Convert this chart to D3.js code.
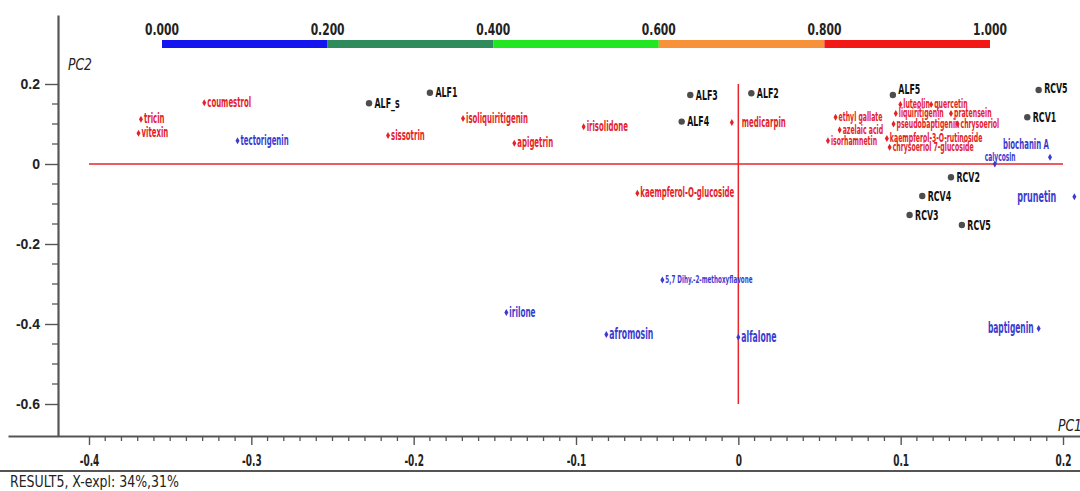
<!DOCTYPE html>
<html>
<head>
<meta charset="utf-8">
<script src="https://cdn.jsdelivr.net/npm/d3@7"></script>
<style>
body{margin:0;background:#fff;overflow:hidden}
svg{display:block}
</style>
</head>
<body>
<svg id="chart"></svg>
<script>
// sample scores (grey dots)
var sampleNames = ["ALF_s","ALF1","ALF3","ALF4","ALF2","ALF5","RCV5","RCV1","RCV2","RCV4","RCV3","RCV5"];
var sampleX = [-0.2275,-0.190,-0.0296,-0.0349,0.008,0.0952,0.185,0.178,0.131,0.1133,0.1055,0.1377];
var sampleY = [0.152,0.178,0.1725,0.106,0.177,0.1725,0.185,0.117,-0.033,-0.080,-0.1275,-0.1525];

// compound loadings, band = slot of the colour scale (0 = 0.000-0.200 ... 4 = 0.800-1.000)
var compNames = ["coumestrol","tricin","vitexin","tectorigenin","sissotrin","isoliquiritigenin","apigetrin",
	"irisolidone","medicarpin","kaempferol-O-glucoside","ethyl gallate","azelaic acid","isorhamnetin",
	"luteolin","quercetin","liquiritigenin","pratensein","pseudobaptigenin","chrysoeriol",
	"kaempferol-3-O-rutinoside","chrysoeriol 7-glucoside","biochanin A","calycosin","prunetin",
	"baptigenin","5,7 Dihy.-2-methoxyflavone","irilone","afromosin","alfalone"];
var compX = [-0.329,-0.368,-0.3695,-0.3085,-0.2158,-0.1696,-0.138,
	-0.0953,-0.004,-0.0622,0.0599,0.0624,0.0552,
	0.0998,0.1188,0.097,0.131,0.0956,0.135,
	0.0915,0.0932,0.192,0.158,0.207,
	0.185,-0.0468,-0.1429,-0.0813,0.0];
var compY = [0.153,0.112,0.077,0.058,0.071,0.114,0.052,
	0.093,0.104,-0.073,0.117,0.085,0.058,
	0.149,0.149,0.126,0.126,0.100,0.100,
	0.064,0.042,0.017,0.0,-0.082,
	-0.411,-0.290,-0.371,-0.426,-0.433];
var compBand = [4,4,4,0,4,4,4,
	4,4,4,4,4,4,
	4,4,4,4,4,4,
	4,4,0,0,0,
	0,0,0,0,0];

var bandTicks = [0,0.2,0.4,0.6,0.8,1.0];
var xTicks = [-0.4,-0.3,-0.2,-0.1,0,0.1,0.2];
var yTicks = [0.2,0,-0.2,-0.4,-0.6];
var footer = "RESULT5, X-expl: 34%,31%";

var w = 1080, h = 491;
var bandColors = ["#1414ee","#2f8a5c","#22e622","#f7923a","#f21818"];
var textColors = ["#3b3bcf","","","","#e4222c"];
var axisColor = "#555";
var narrow = "'Liberation Sans Narrow','Arial Narrow','DejaVu Sans Condensed',sans-serif";

// label tweaks (font size / placement) for crowded spots
var labelSize = {"5,7 Dihy.-2-methoxyflavone":11.3,"calycosin":11.9,"irilone":14.6,"afromosin":15.6,
	"alfalone":15.6,"prunetin":16.2,"baptigenin":15.1,"biochanin A":14,"tectorigenin":14};
var small = ["ethyl gallate","azelaic acid","isorhamnetin","luteolin","quercetin","liquiritigenin",
	"pratensein","pseudobaptigenin","chrysoeriol","kaempferol-3-O-rutinoside","chrysoeriol 7-glucoside"];
var labelNudge = {"medicarpin":{dx:10,dy:0,a:"start"},"prunetin":{dx:-18,dy:0,a:"end"},
	"baptigenin":{dx:-5,dy:0,a:"end"},"biochanin A":{dx:-1,dy:-12,a:"end"},
	"calycosin":{dx:-10,dy:-6.5,a:"start"}};
var sampleLift = {"ALF5":-6,"RCV5":-2};
function fontSize(n){ return labelSize[n] || (small.indexOf(n) >= 0 ? 12.4 : 14); }

var svg = d3.select("#chart").attr("width", w).attr("height", h);

// horizontal squeeze so whatever font is present gets the narrow look of the original
function squeezeFor(family, weight, size, sample, target){
	var t = svg.append("text").attr("font-family", family).attr("font-weight", weight)
		.attr("font-size", size).text(sample);
	var len = t.node().getComputedTextLength();
	t.remove();
	return Math.min(1, target / len);
}
var sqComp = squeezeFor(narrow, "bold", 14, "coumestrol", 44);
var sqSamp = squeezeFor(narrow, "bold", 14.5, "ALF3", 22);
var sqTick = squeezeFor(narrow, "bold", 15, "-0.4", 19.6);
var sqBand = squeezeFor(narrow, "bold", 16.5, "0.000", 34);
var sqFoot = squeezeFor(narrow, "normal", 16, footer, 169);
var sqPc = squeezeFor(narrow, "normal", 16.5, "PC2", 24);

var x = d3.scaleLinear().domain([-0.4, 0.2]).range([89, 1063]);
var y = d3.scaleLinear().domain([0.2, -0.6]).range([84, 404]);
var xAxisY = 436, yAxisX = 58;

// colour scale on top
var cb = d3.scaleLinear().domain([0, 1]).range([162, 990]);
svg.selectAll("rect.band").data(d3.range(5)).enter().append("rect")
	.attr("x", function(d){ return cb(bandTicks[d]); })
	.attr("y", 40)
	.attr("width", function(d){ return cb(bandTicks[d+1]) - cb(bandTicks[d]); })
	.attr("height", 8)
	.attr("fill", function(d){ return bandColors[d]; });
svg.selectAll("text.band").data(bandTicks).enter().append("text")
	.attr("transform", function(d){ return "translate(" + cb(d) + ",35) scale(" + sqBand + ",1)"; })
	.attr("text-anchor", "middle")
	.attr("font-family", narrow).attr("font-weight", "bold").attr("font-size", 16.5)
	.attr("fill", "#222")
	.text(d3.format(".3f"));

// axes
var xFull = x.copy().domain([x.invert(8), x.invert(w)]).range([8, w]);
var yFull = y.copy().domain([y.invert(15), y.invert(xAxisY)]).range([15, xAxisY]);

var gx = svg.append("g").attr("transform", "translate(0," + xAxisY + ")")
	.call(d3.axisBottom(xFull).tickValues(xTicks).tickSize(9).tickSizeOuter(0)
		.tickFormat(function(d){ return String(d); }));
gx.select(".domain").attr("stroke", axisColor).attr("stroke-width", 2.2);
gx.selectAll(".tick line").attr("stroke", axisColor).attr("stroke-width", 1.4);
gx.selectAll(".tick text").attr("font-family", narrow).attr("font-weight", "bold")
	.attr("font-size", 15).attr("fill", "#222").attr("y", 0).attr("dy", 0)
	.attr("transform", "translate(0,30) scale(" + sqTick + ",1)");
gx.selectAll("line.minor").data(d3.range(-40, 21).filter(function(v){ return v % 10 != 0; }))
	.enter().append("line").attr("class", "minor")
	.attr("x1", function(d){ return x(d / 100); }).attr("x2", function(d){ return x(d / 100); })
	.attr("y1", 0).attr("y2", 5)
	.attr("stroke", axisColor).attr("stroke-width", 1.3);

var gy = svg.append("g").attr("transform", "translate(" + yAxisX + ",0)")
	.call(d3.axisLeft(yFull).tickValues(yTicks).tickSize(13).tickSizeOuter(0)
		.tickFormat(function(d){ return String(d); }));
gy.select(".domain").attr("stroke", axisColor).attr("stroke-width", 2.2);
gy.selectAll(".tick line").attr("stroke", axisColor).attr("stroke-width", 1.4);
gy.selectAll(".tick text").attr("font-family", "'Liberation Sans',Arial,sans-serif").attr("font-weight", "bold")
	.attr("font-size", 14).attr("fill", "#222").attr("x", -18);
gy.selectAll("line.minor").data(d3.range(-11, 4).filter(function(v){ return v % 4 != 0; }))
	.enter().append("line").attr("class", "minor")
	.attr("y1", function(d){ return y(d * 0.05); }).attr("y2", function(d){ return y(d * 0.05); })
	.attr("x1", -6).attr("x2", 0)
	.attr("stroke", axisColor).attr("stroke-width", 1.3);

svg.append("line").attr("x1", 0).attr("x2", w).attr("y1", 471).attr("y2", 471)
	.attr("stroke", axisColor).attr("stroke-width", 2.2);

svg.append("text").attr("transform", "translate(68,70) scale(" + sqPc + ",1)")
	.attr("font-family", narrow).attr("font-style", "italic").attr("font-size", 16.5).attr("fill", "#222")
	.text("PC2");
svg.append("text").attr("transform", "translate(1058,431) scale(" + sqPc + ",1)")
	.attr("font-family", narrow).attr("font-style", "italic").attr("font-size", 16.5).attr("fill", "#222")
	.text("PC1");
svg.append("text").attr("transform", "translate(10,487) scale(" + sqFoot + ",1)")
	.attr("font-family", narrow).attr("font-size", 16).attr("fill", "#222")
	.text(footer);

// red cross through the origin
svg.append("line").attr("x1", x(-0.4)).attr("x2", x(0.2)).attr("y1", y(0)).attr("y2", y(0))
	.attr("stroke", "#e8242c").attr("stroke-width", 1.5);
svg.append("line").attr("x1", x(0)).attr("x2", x(0)).attr("y1", y(0.2)).attr("y2", y(-0.6))
	.attr("stroke", "#e8242c").attr("stroke-width", 1.5);

// compounds
var comps = compNames.map(function(n, i){ return {name:n, x:compX[i], y:compY[i], band:compBand[i]}; });
svg.selectAll("path.comp").data(comps).enter().append("path")
	.attr("d", d3.symbol().type(d3.symbolDiamond).size(14))
	.attr("transform", function(d){ return "translate(" + x(d.x) + "," + y(d.y) + ")"; })
	.attr("fill", function(d){ return textColors[d.band]; });
svg.selectAll("text.comp").data(comps).enter().append("text")
	.attr("transform", function(d){
		var fs = fontSize(d.name);
		var nd = labelNudge[d.name] || {dx:3, dy:0};
		return "translate(" + (x(d.x) + nd.dx) + "," + (y(d.y) + nd.dy + fs * 0.3) + ") scale(" + sqComp + ",1)";
	})
	.attr("text-anchor", function(d){ return labelNudge[d.name] ? labelNudge[d.name].a : "start"; })
	.attr("font-family", narrow).attr("font-weight", "bold")
	.attr("font-size", function(d){ return fontSize(d.name); })
	.attr("fill", function(d){ return textColors[d.band]; })
	.text(function(d){ return d.name; });

// samples
var samples = sampleNames.map(function(n, i){ return {name:n, x:sampleX[i], y:sampleY[i]}; });
svg.selectAll("circle.sample").data(samples).enter().append("circle")
	.attr("cx", function(d){ return x(d.x); })
	.attr("cy", function(d){ return y(d.y); })
	.attr("r", 3.2)
	.attr("fill", "#4d4d4d");
svg.selectAll("text.sample").data(samples).enter().append("text")
	.attr("transform", function(d, i){
		var lift = (sampleLift[d.name] && sampleY[i] > 0) ? sampleLift[d.name] : 0;
		return "translate(" + (x(d.x) + 5.5) + "," + (y(d.y) + 4.5 + lift) + ") scale(" + sqSamp + ",1)";
	})
	.attr("font-family", narrow).attr("font-weight", "bold").attr("font-size", 14.5)
	.attr("fill", "#111")
	.text(function(d){ return d.name; });
</script>
</body>
</html>
